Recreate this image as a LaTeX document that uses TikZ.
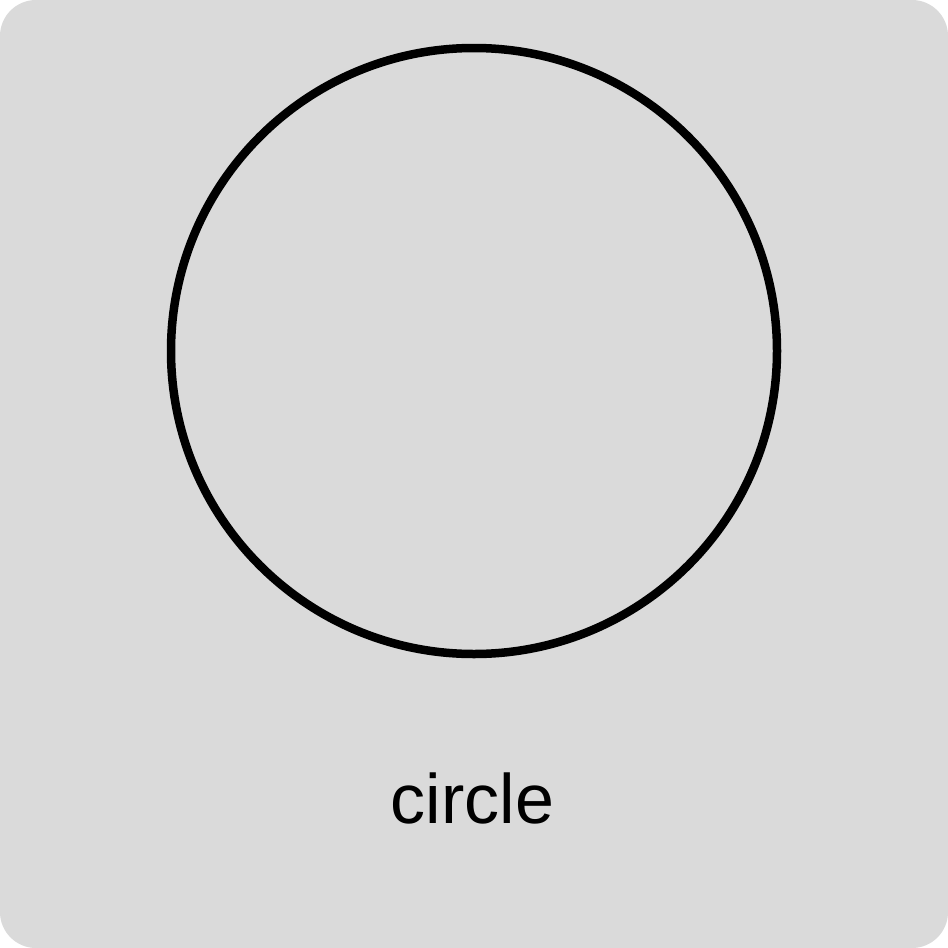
\documentclass[tikz,border=0pt]{standalone}
\usepackage{fontspec}
\setmainfont{Liberation Sans}
\definecolor{bg}{HTML}{DADADA}
\tikzset{
  panel/.style={fill=bg, draw=none, rounded corners=36pt},
  ring/.style={draw=black, line width=8.5pt},
  caption/.style={anchor=base, inner sep=0pt, font=\fontsize{70}{84}\selectfont}
}
\begin{document}
\begin{tikzpicture}[x=1pt,y=-1pt]
\useasboundingbox (0,0) rectangle (948,948);
\fill[white] (0,0) rectangle (948,948);
\path[panel] (0,0) rectangle (948,948);
\node[ring, circle, minimum size=606pt, inner sep=0pt] (c) at (474,351) {};
\node[caption] (lbl) at (472.5,823) {circle};
\end{tikzpicture}
\end{document}
